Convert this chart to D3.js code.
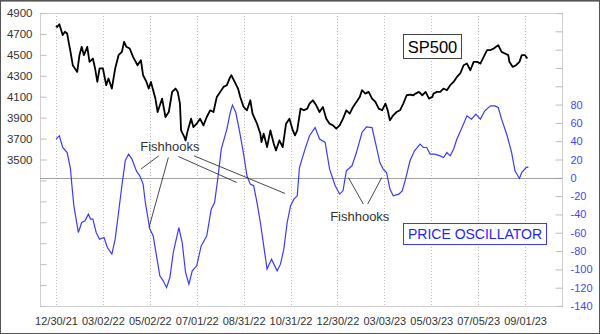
<!DOCTYPE html>
<html>
<head>
<meta charset="utf-8">
<script src="https://cdn.jsdelivr.net/npm/d3@7"></script>
<style>
  html, body { margin: 0; padding: 0; background: #fff; }
  svg { display: block; font-family: "Liberation Sans", Arial, sans-serif; }
</style>
</head>
<body>
<svg id="chart" width="600" height="334"></svg>
<script>
// Trading-day index (0 = 12/30/21) of each labelled date on the time axis
const tickDays = [0, 42, 84, 126, 168, 210, 252, 294, 336, 378, 420];
const tickLabels = ["12/30/21", "03/02/22", "05/02/22", "07/01/22", "08/31/22", "10/31/22",
                    "12/30/22", "03/03/23", "05/03/23", "07/05/23", "09/01/23"];

// S&P 500 close (left axis)
const priceDays = [0,1,3,6,8,10,11,13,15,19,21,23,25,28,30,33,35,37,39,42,45,47,50,53,56,59,61,63,66,69,73,76,78,81,83,85,89,91,93,95,98,101,104,107,109,111,112,115,116,118,121,123,126,129,132,135,138,141,144,147,150,153,156,157,160,163,165,168,171,174,176,180,183,184,186,189,192,195,197,200,203,206,209,212,214,216,219,222,225,227,230,233,236,239,242,245,248,251,254,257,260,263,266,269,272,274,277,280,283,286,289,292,295,297,299,302,305,308,311,314,317,320,322,325,328,331,334,337,338,341,344,347,350,353,356,359,362,365,368,371,374,377,380,383,386,389,392,396,399,402,405,406,409,412,415,417,420,422];
const priceValues = [4778,4766,4793,4689,4721,4705,4641,4529,4401,4337,4497,4577,4497,4577,4433,4465,4370,4241,4370,4370,4210,4274,4178,4370,4497,4529,4625,4577,4561,4481,4401,4449,4305,4241,4178,4241,4082,3954,4018,4082,3906,3954,4146,4178,4146,4034,3778,3714,3682,3778,3890,3810,3842,3890,3826,3906,3970,3954,4098,4146,4194,4210,4289,4305,4241,4178,4098,4002,3970,4066,3938,3842,3746,3666,3746,3618,3778,3650,3586,3682,3618,3842,3890,3780,3730,3778,3986,3970,3986,4034,4066,4018,3954,4002,3890,3842,3826,3794,3826,3890,3970,3938,4002,4050,4098,4162,4130,4146,4082,4050,3986,3970,4034,3970,3874,3922,3954,3970,4034,4114,4120,4114,4130,4146,4114,4146,4082,4098,4130,4146,4146,4178,4162,4210,4241,4289,4322,4401,4417,4353,4433,4433,4417,4481,4545,4545,4561,4593,4529,4513,4497,4433,4385,4401,4433,4497,4497,4465];

// Price oscillator (right axis)
const oscDays = [0,3,6,10,13,14,16,20,23,26,29,31,33,36,39,43,46,50,53,56,59,62,65,68,72,75,78,80,83,84,87,90,93,96,99,102,105,110,113,116,119,122,126,130,135,139,142,145,148,153,156,158,161,164,168,171,174,177,180,183,186,189,193,198,201,204,207,210,213,216,218,223,227,232,236,241,245,250,254,257,260,265,269,274,278,283,286,290,293,296,299,302,307,310,313,317,321,326,329,332,335,339,344,347,350,353,356,359,363,368,372,376,380,384,389,393,396,399,404,408,411,415,417,421,423];
const oscValues = [42.3,45.9,33.1,27.6,9.5,-5.1,-30.6,-59.7,-48.8,-47,-39.7,-45.1,-45.1,-59.7,-67,-65.2,-76.1,-83.3,-67,-37.9,-8.7,18.6,25.9,20.4,7.6,2.2,-6.9,-27,-48.8,-56,-63.3,-85.2,-107,-112.5,-119.8,-108.9,-81.6,-54.3,-70.7,-103.4,-116.1,-101.6,-96.1,-74.3,-63.3,-34.2,-27,0.3,31.3,53.2,71.3,79.4,71.3,53.2,25.9,2.2,-6.9,-8.7,-27,-48.8,-74.3,-99.7,-88.8,-101.6,-94.3,-77.9,-48.8,-30.6,-23.3,-19.7,11.2,31.3,45.9,54.9,42.3,38.6,9.5,-8.7,-17.8,-14.2,7.6,13.1,27.6,49.5,55.7,54.9,38.6,16.7,9.5,5.8,-12.3,-19.7,-17.8,-14.2,-1.4,18.6,29.5,36.8,33.1,33.1,25.9,25.9,24,22.2,27.6,24,31.3,42.3,53.2,67.7,64.1,69.6,64.1,73.2,78.6,78.6,76.8,64.1,45.9,27.6,7.6,-0.7,5.8,11.2,12];

// Axis tick values
const priceTicks = d3.range(2100, 4901, 200);
const priceTickLabelMin = 3500;
const oscTicks = d3.range(-140, 181, 20);
const oscTickLabelMax = 80;

// "Fishhooks" callouts: text anchor and leader lines, in (day, oscillator) units
const calloutText = [
  { day: 102, osc: 29.5 },
  { day: 272, osc: -47 }
];
const calloutLines = [
  [[92, 24], [76, 9.5]],
  [[100.6, 22.2], [83.3, -54.3]],
  [[109.5, 23.3], [161.8, -5.1]],
  [[123.6, 24], [205.1, -17.1]],
  [[261.8, 0.3], [275.2, -28.7]],
  [[291.7, 0.3], [279.1, -28.7]]
];

const W = 600, H = 334;
const plot = { left: 40, right: 562, top: 13, bottom: 306 };

const svg = d3.select("#chart");

const x = d3.scaleLinear().domain([-14.33, 453.1]).range([plot.left, plot.right]);
const yPrice = d3.scaleLinear().domain([2100, 4900]).range([plot.bottom, plot.top]);
const yOsc = d3.scaleLinear().domain([-140, 180]).range([plot.bottom, plot.top]);

// outer frame
svg.append("rect").attr("x", 0.5).attr("y", 0.5).attr("width", W - 1).attr("height", H - 1)
  .attr("fill", "#fff").attr("stroke", "#555").attr("stroke-width", 1);
svg.append("line").attr("x1", 1).attr("x2", W - 1).attr("y1", 1.5).attr("y2", 1.5)
  .attr("stroke", "#999");

// plot frame
svg.append("rect").attr("x", plot.left + 0.5).attr("y", plot.top + 0.5)
  .attr("width", plot.right - plot.left).attr("height", plot.bottom - plot.top)
  .attr("fill", "#fff").attr("stroke", "#cfcfcf");

// dotted vertical grid at each labelled date
svg.append("g").selectAll("line").data(tickDays).join("line")
  .attr("x1", d => Math.round(x(d)) + 0.5).attr("x2", d => Math.round(x(d)) + 0.5)
  .attr("y1", plot.top).attr("y2", plot.bottom)
  .attr("stroke", "#bdbdbd").attr("stroke-dasharray", "1,2");

// left axis (price), ticks pointing inward
const leftAxis = d3.axisRight(yPrice).tickValues(priceTicks).tickSize(6)
  .tickFormat(d => d >= priceTickLabelMin ? d : "");
const gl = svg.append("g").attr("transform", `translate(${plot.left + 0.5},0)`).call(leftAxis);
gl.select(".domain").remove();
gl.selectAll(".tick line").attr("stroke", "#bdbdbd");
gl.selectAll(".tick text").attr("x", -8).attr("text-anchor", "end")
  .attr("fill", "#333").style("font-size", "11.5px").style("font-family", "'Liberation Sans', Arial, sans-serif");

// right axis (oscillator), ticks pointing inward
const rightAxis = d3.axisLeft(yOsc).tickValues(oscTicks).tickSize(7)
  .tickFormat(d => d <= oscTickLabelMax ? d : "");
const gr = svg.append("g").attr("transform", `translate(${plot.right + 0.5},0)`).call(rightAxis);
gr.select(".domain").remove();
gr.selectAll(".tick line").attr("stroke", "#bdbdbd");
gr.selectAll(".tick text").attr("x", 8).attr("text-anchor", "start")
  .attr("fill", "#4646ff").style("font-size", "11px").style("font-family", "'Liberation Sans', Arial, sans-serif");

// bottom axis labels
const bottomAxis = d3.axisBottom(x).tickValues(tickDays).tickSize(0)
  .tickFormat((d, i) => tickLabels[i]);
const gb = svg.append("g").attr("transform", `translate(0,${plot.bottom})`).call(bottomAxis);
gb.select(".domain").remove();
gb.selectAll(".tick text").attr("y", 11).attr("fill", "#333")
  .style("font-size", "11px").style("font-family", "'Liberation Sans', Arial, sans-serif");

// oscillator zero line
svg.append("line")
  .attr("x1", plot.left).attr("x2", plot.right)
  .attr("y1", Math.round(yOsc(0)) + 0.5).attr("y2", Math.round(yOsc(0)) + 0.5)
  .attr("stroke", "#a0a0a0");

// oscillator line
const oscLine = d3.line().x((d, i) => x(oscDays[i])).y(d => yOsc(d));
svg.append("path").datum(oscValues).attr("d", oscLine)
  .attr("fill", "none").attr("stroke", "#3a3aff").attr("stroke-width", 1.2);

// price line
const priceLine = d3.line().x((d, i) => x(priceDays[i])).y(d => yPrice(d));
svg.append("path").datum(priceValues).attr("d", priceLine)
  .attr("fill", "none").attr("stroke", "#000").attr("stroke-width", 1.8)
  .attr("stroke-linejoin", "round");

// callouts
svg.append("g").selectAll("line").data(calloutLines).join("line")
  .attr("x1", d => x(d[0][0])).attr("y1", d => yOsc(d[0][1]))
  .attr("x2", d => x(d[1][0])).attr("y2", d => yOsc(d[1][1]))
  .attr("stroke", "#333").attr("stroke-width", 0.9);
svg.append("g").selectAll("text").data(calloutText).join("text")
  .attr("x", d => x(d.day)).attr("y", d => yOsc(d.osc))
  .attr("text-anchor", "middle").attr("fill", "#333")
  .style("font-size", "13px").text("Fishhooks");

// series captions
const sp = svg.append("g");
sp.append("rect").attr("x", 403.5).attr("y", 34.5).attr("width", 58).attr("height", 24)
  .attr("fill", "#fff").attr("stroke", "#444");
sp.append("text").attr("x", 432.5).attr("y", 52.5).attr("text-anchor", "middle")
  .attr("fill", "#000").style("font-size", "16.5px").text("SP500");

const po = svg.append("g");
po.append("rect").attr("x", 403.5).attr("y", 223.5).attr("width", 143).attr("height", 21)
  .attr("fill", "#fff").attr("stroke", "#3a3aff");
po.append("text").attr("x", 475).attr("y", 239).attr("text-anchor", "middle")
  .attr("fill", "#1f1fff").style("font-size", "14px").text("PRICE OSCILLATOR");
</script>
</body>
</html>
